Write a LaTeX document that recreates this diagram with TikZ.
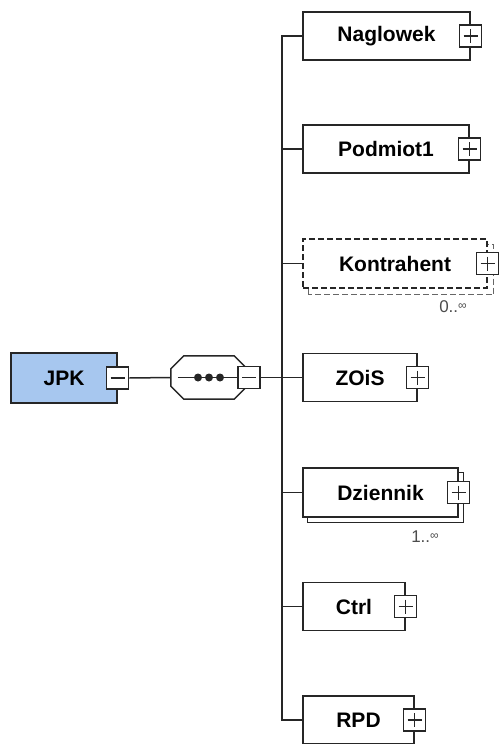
\documentclass[tikz,border=0pt]{standalone}
\usepackage{fontspec}
\setmainfont{Liberation Sans}
\usetikzlibrary{backgrounds}
\definecolor{jpkblue}{RGB}{167,199,239}
\begin{document}
\begin{tikzpicture}[x=1pt,y=-1pt]
  \tikzstyle{elem}=[draw=black!85, line width=1.4pt, fill=white, minimum height=48pt,
  inner sep=0pt, font=\fontsize{21}{25}\selectfont\bfseries]
  \tikzstyle{opt}=[elem, dash pattern=on 6pt off 3pt]
  \tikzstyle{shade}=[draw=black!60, line width=1.4pt, fill=white]
  \tikzstyle{knob}=[draw=black!85, line width=1.2pt, fill=white, minimum size=22pt, inner sep=0pt]
  \tikzstyle{plus}=[knob, path picture={\draw[line width=1.2pt]
    ([xshift=4pt]path picture bounding box.west) -- ([xshift=-4pt]path picture bounding box.east)
    ([yshift=-4pt]path picture bounding box.north) -- ([yshift=4pt]path picture bounding box.south);}]
  \tikzstyle{minus}=[knob, path picture={\draw[line width=1.2pt]
    ([xshift=4pt]path picture bounding box.west) -- ([xshift=-4pt]path picture bounding box.east);}]
  \tikzstyle{link}=[draw=black!85, line width=1.5pt]
  \tikzstyle{card}=[text=black!70, font=\fontsize{17}{20}\selectfont, inner sep=0pt]
  \useasboundingbox (0,0) rectangle (501,744);
  \draw (64,378) node[elem, fill=jpkblue, minimum width=106pt, minimum height=50pt] (jpk) {JPK};
  \draw (jpk.east) node[minus] (jpkm) {};
  \node[minimum width=76pt, minimum height=43pt, inner sep=0pt] (seq) at (209,377.5) {};
  \draw[link, fill=white] ([xshift=13pt]seq.north west) -- ([xshift=-13pt]seq.north east)
    -- ([yshift=-13pt]seq.north east) -- ([yshift=13pt]seq.south east)
    -- ([xshift=-13pt]seq.south east) -- ([xshift=13pt]seq.south west)
    -- ([yshift=13pt]seq.south west) -- ([yshift=-13pt]seq.north west) -- cycle;
  \draw (249,377.5) node[minus] (seqm) {};
  \draw[link] ([xshift=7pt]seq.west) -- (seqm.west);
  \foreach \x in {198,209,220} {
    \fill[black!85] (\x,377.5) circle (4pt);
  }
  \coordinate (trunk) at (282,377.5);
  \draw[link] (jpkm.east) -- (seq.west);
  \draw[link] (seqm.east) -- (trunk);
  \foreach \n/\x/\y/\w/\t in {nag/386.5/36/167pt/Naglowek,pod/386/149/166pt/Podmiot1,
    zois/360/377.5/114pt/ZOiS,ctrl/354/606.5/102pt/Ctrl,rpd/358.5/720/111pt/RPD} {
    \draw (\x,\y) node[elem, minimum width=\w] (\n) {\t};
    \draw (\n.east) node[plus] (\n p) {};
  }
  \draw (395,263.5) node[opt, minimum width=184pt, minimum height=49pt] (kon) {Kontrahent};
  \draw (380.5,492.5) node[elem, minimum width=155pt, minimum height=49pt] (dz) {Dziennik};
  \begin{scope}[on background layer]
    \draw[shade, dash pattern=on 6pt off 3pt] ([shift={(6pt,-6pt)}]kon.south west)
      rectangle ([shift={(6pt,-6pt)}]kon.north east);
    \draw[shade, draw=black!85] ([shift={(5pt,-5pt)}]dz.south west)
      rectangle ([shift={(5pt,-5pt)}]dz.north east);
  \end{scope}
  \draw (kon.east) node[plus] (konp) {};
  \draw (dz.east) node[plus] (dzp) {};
  \node[card] (konc) at (453,307) {0..\raisebox{3pt}{\fontsize{12}{12}\selectfont ∞}};
  \node[card] (dzc) at (425,537) {1..\raisebox{3pt}{\fontsize{12}{12}\selectfont ∞}};
  \foreach \n in {nag,pod,kon,zois,dz,ctrl,rpd} {
    \draw[link] (\n.west) -| (trunk);
  }
\end{tikzpicture}
\end{document}
